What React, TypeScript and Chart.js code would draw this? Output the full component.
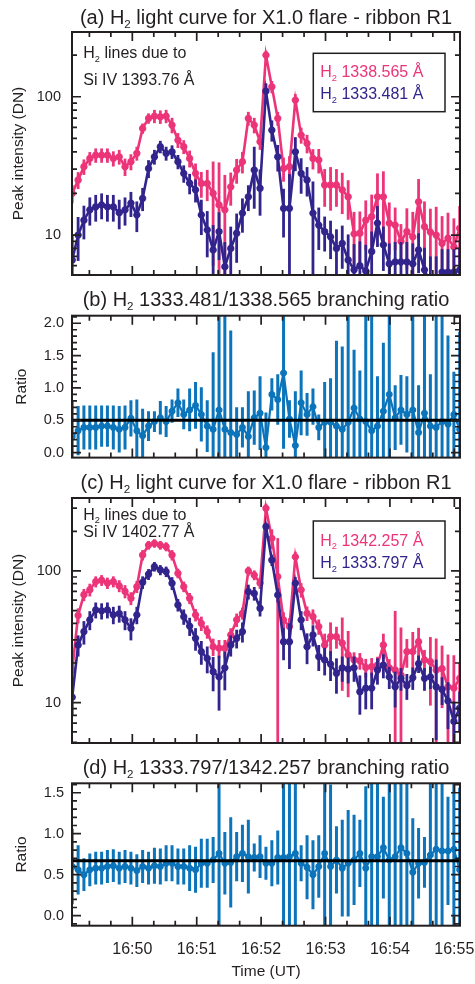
import React, { useEffect, useRef } from 'react';
import { Chart, registerables } from 'chart.js';

Chart.register(...registerables);

const FONT = '"Liberation Sans", Arial, Helvetica, sans-serif';
const INK = '#231f20';
const PINK = '#ec3479';
const NAVY = '#31248c';
const CYAN = '#0b74ba';

// Observation times, seconds after 16:49:00 UT
const TIME_S = [4.0, 9.5, 14.9, 20.4, 25.9, 31.4, 36.8, 42.3, 47.8, 53.2, 58.7, 64.2, 69.6, 75.1, 80.6, 86.1, 91.5, 97.0, 102.5, 107.9, 113.4, 118.9, 124.3, 129.8, 135.3, 140.8, 146.2, 151.7, 157.2, 162.6, 168.1, 173.6, 179.0, 184.5, 190.0, 195.5, 200.9, 206.4, 211.9, 217.3, 222.8, 228.3, 233.7, 239.2, 244.7, 250.2, 255.6, 261.1, 266.6, 272.0, 277.5, 283.0, 288.4, 293.9, 299.4, 304.9, 310.3, 315.8, 321.3, 326.7, 332.2, 337.7, 343.1, 348.6, 354.1, 359.6, 365.0];
const X_MIN = 3.8;
const X_MAX = 365.3;
const X_TICKS = [60, 120, 180, 240, 300, 360];
const X_TICK_LABELS = ['16:50', '16:51', '16:52', '16:53', '16:54', '16:55'];

// (a) Si IV 1393.76 pumped lines
const A_1338 = [20, 25, 31.2, 35.8, 37.8, 37.8, 37.8, 35.8, 36.8, 31.2, 33.9, 39, 59, 69.8, 72.4, 71.6, 72.4, 62.4, 48.6, 43.5, 35.8, 27.9, 23.6, 23.6, 20, 16.5, 15.2, 22.3, 29.5, 33.9, 69.8, 62.4, 47.3, 200, 118, 69.8, 30.3, 31.2, 94.6, 52.8, 46, 35.8, 34.9, 23, 23, 23, 21.2, 18.9, 10.2, 10.3, 12.8, 13.6, 18.9, 18.9, 12.2, 11.8, 9.0, 10.6, 9.7, 17.4, 11.5, 10.5, 10, 8.7, 9.5, 8.2, 11.2];
const A_1338_ERR = [3, 3.5, 4, 4, 4.5, 4.5, 4.5, 4.5, 4.5, 4.5, 4.5, 4.5, 5, 6, 8, 8, 8, 8, 6, 5, 5, 5, 5, 6, 14, 17, 12, 6, 6, 6, 8, 8, 6, 15, 12, 8, 6, 6, 10, 7, 7, 6, 7, 7, 8, 7, 7, 6, 4.5, 4.5, 5, 6, 9, 10, 5, 4, 3, 5, 5, 8, 6, 5, 6, 5, 5, 5, 5];
const A_1333 = [6.6, 10, 12.8, 15.2, 16, 16.5, 16, 16, 14.5, 15.2, 17, 14, 18.4, 30.3, 36.8, 43.5, 39, 40, 33.9, 27.9, 23.7, 21.2, 14, 10.9, 7.8, 10.6, 5.9, 8.0, 10.3, 14.4, 18.9, 29.5, 21.8, 110, 57.4, 36.8, 15.6, 15.6, 40, 27.9, 25, 14.4, 11.8, 10.6, 9.7, 8.0, 8.7, 6.6, 5.6, 6.0, 5.5, 7.6, 12.2, 8.5, 6.2, 6.4, 6.4, 6.4, 6.2, 7.8, 5.6, 4.5, 4.5, 5.4, 5.4, 5.4, 5.6];
const A_1333_ERR = [3.5, 3.5, 3.5, 3.5, 3.5, 3.5, 3.5, 3.5, 3.5, 3.5, 3.5, 3.5, 3.5, 4.5, 4.5, 4.5, 4.5, 4.5, 4, 4, 4, 4, 4, 4, 4, 4, 3, 3.5, 4, 4, 4, 14, 8, 15, 10, 8, 6, 12, 11, 8, 6, 10, 4, 3, 3, 3, 3, 3.5, 3, 3, 3, 3, 4, 3, 2.5, 2.5, 2.5, 2.5, 2.5, 2.5, 2.5, 2.5, 2.5, 2.5, 2.5, 2.5, 2.5];

// (b) branching ratio 1333.481/1338.565
const B_RATIO = [0.25, 0.34, 0.39, 0.39, 0.39, 0.41, 0.41, 0.39, 0.36, 0.39, 0.53, 0.34, 0.26, 0.41, 0.48, 0.54, 0.48, 0.64, 0.77, 0.59, 0.66, 0.73, 0.59, 0.41, 0.36, 0.66, 0.36, 0.31, 0.28, 0.39, 0.25, 0.54, 0.61, 0.08, 0.90, 0.82, 1.23, 0.52, 0.11, 0.77, 0.59, 0.71, 0.39, 0.47, 0.47, 0.41, 0.36, 0.47, 0.69, 0.52, 0.48, 0.34, 0.41, 0.64, 0.90, 0.54, 0.66, 0.59, 0.66, 0.31, 0.61, 0.41, 0.39, 0.48, 0.44, 0.59, 0.36];
const B_RATIO_ERR = [0.55, 0.38, 0.34, 0.34, 0.34, 0.32, 0.32, 0.34, 0.36, 0.34, 0.28, 0.48, 0.42, 0.23, 0.16, 0.26, 0.24, 0.18, 0.22, 0.23, 0.33, 0.36, 0.42, 0.40, 1.19, 1.6, 1.8, 1.58, 0.42, 0.31, 0.70, 0.42, 0.57, 0.54, 0.25, 0.39, 1.17, 0.29, 0.84, 0.5, 0.33, 0.28, 0.2, 0.62, 0.68, 1.32, 1.28, 2.0, 0.9, 0.75, 2.0, 2.0, 0.77, 1.06, 1.3, 0.5, 0.54, 0.59, 2.0, 0.73, 2.0, 0.8, 2.0, 2.0, 1.37, 0.66, 1.51];
const B_REF = 0.5;

// (c) Si IV 1402.77 pumped lines
const C_1342 = [17.7, 46, 66, 72, 83, 85, 81, 83, 77, 70, 62, 76, 132, 157, 162, 157, 153, 132, 96, 76, 62, 46.4, 40, 34.6, 26.6, 25.9, 25.9, 32.7, 42.5, 47.7, 100, 93, 81, 299, 177, 90.6, 42.5, 37.8, 128, 71.8, 47.7, 45, 37.8, 27.4, 31.7, 31.7, 28.3, 23, 21.1, 20.8, 18.5, 18.8, 19.3, 27.4, 18.4, 17.7, 16.2, 24.4, 24.4, 29, 21.1, 20.5, 17.7, 18.1, 13.2, 12.9, 15.3];
const C_1342_ERR = [4, 6, 7, 8, 8, 8, 8, 8, 8, 8, 7, 8, 12, 12, 12, 12, 12, 12, 8, 7, 6, 5, 5, 4, 4, 4, 4, 4, 5, 5, 8, 8, 8, 25, 30, 87, 6, 6, 12, 9, 6, 6, 5, 6, 9, 6, 16, 12, 3, 3, 3, 3, 3, 6, 3, 32, 21, 6, 10, 8, 4, 11, 13, 9, 10, 10, 5];
const C_1333 = [11, 27.4, 34.6, 42.5, 50.6, 49.8, 50.6, 46.4, 47.5, 42.5, 36.7, 46.4, 82, 94.4, 107.9, 101.8, 98.9, 80.7, 55.2, 45, 38.1, 30.8, 24.4, 21.7, 17.2, 15.7, 18.4, 27.4, 30.8, 34.6, 69.7, 67.5, 52.1, 217, 121, 65.7, 29, 29, 80.7, 42.5, 26.6, 32.7, 22.4, 21.1, 19.6, 16.7, 18.4, 18, 18.4, 12.1, 12.9, 12.9, 17.7, 19.3, 15.7, 13.2, 15.3, 13.5, 15.5, 19.8, 15.3, 15.7, 13.2, 12.6, 10.3, 7.2, 9.1];
const C_1333_ERR = [3, 5, 7, 7, 7, 7, 7, 7, 7, 7, 7, 7, 9, 9, 9, 9, 9, 9, 6, 6, 6, 6, 5, 5, 5, 7, 6, 5, 5, 6, 9, 8, 7, 15, 12, 8, 8, 11, 9, 7, 7, 6, 5, 5, 5, 5, 4, 4, 4, 4, 4, 4, 4, 4, 3, 4, 3, 3, 3, 3, 3, 3, 8, 3, 4, 3, 3];

// (d) branching ratio 1333.797/1342.257
const D_RATIO = [0.60, 0.56, 0.50, 0.56, 0.58, 0.58, 0.60, 0.61, 0.58, 0.60, 0.58, 0.55, 0.60, 0.58, 0.61, 0.60, 0.64, 0.64, 0.60, 0.60, 0.58, 0.56, 0.64, 0.64, 0.68, 0.76, 0.64, 0.65, 0.72, 0.76, 0.72, 0.71, 0.72, 0.64, 0.64, 0.71, 0.71, 0.72, 0.76, 0.64, 0.59, 0.50, 0.60, 0.76, 0.60, 0.68, 0.58, 0.64, 0.68, 0.76, 0.58, 0.72, 0.72, 0.83, 0.68, 0.72, 0.83, 0.76, 0.53, 0.64, 0.65, 0.74, 0.81, 0.79, 0.79, 0.81, 0.56];
const D_RATIO_ERR = [0.46, 0.30, 0.20, 0.20, 0.20, 0.20, 0.20, 0.20, 0.20, 0.20, 0.20, 0.20, 0.20, 0.20, 0.22, 0.22, 0.22, 0.22, 0.22, 0.22, 0.28, 0.28, 0.30, 0.30, 0.28, 1.0, 0.38, 0.55, 0.30, 0.35, 0.45, 0.17, 0.26, 0.20, 0.28, 0.33, 1.0, 1.0, 1.0, 0.22, 0.39, 0.42, 0.38, 1.0, 1.0, 0.41, 0.59, 0.65, 0.55, 0.41, 1.0, 1.0, 1.0, 0.62, 1.0, 1.0, 1.0, 1.0, 0.66, 0.43, 0.31, 1.0, 1.0, 1.0, 0.66, 1.0, 1.0];
const D_REF = 0.67;

const LOG_TICKS = [10, 100];
const B_TICKS = [0, 0.5, 1.0, 1.5, 2.0];
const D_TICKS = [0, 0.5, 1.0, 1.5];

type Seg = { t: string; sub?: boolean };
const H2: Seg[] = [{ t: 'H' }, { t: '2', sub: true }];
const rich = (...parts: (string | Seg[])[]): Seg[] =>
  parts.flatMap((p) => (typeof p === 'string' ? [{ t: p }] : p));

interface Series {
  label: string;
  values: number[];
  errors: number[];
  color: string;
  lineWidth: number;
  errWidth: number;
  radius: number;
}

interface PanelSpec {
  key: string;
  top: number;
  height: number;
  areaTop: number;
  areaBottom: number;
  title: Seg[];
  titleY: number;
  log: boolean;
  yMin: number;
  yMax: number;
  yTicks: number[];
  yDigits: number;
  yPad: number;
  yTitle: string;
  yTitlePad: number;
  series: Series[];
  ref?: number;
  showX: boolean;
  notes?: { segs: Seg[]; y: number }[];
  legend?: { box: [number, number, number, number]; items: { segs: Seg[]; color: string; y: number }[] };
}

const X_AXIS_H = 58.3;

function drawRich(ctx: CanvasRenderingContext2D, segs: Seg[], x: number, y: number, size: number, align: 'left' | 'center', color: string) {
  const parts = segs.map((s) => {
    const fs = s.sub ? size * 0.58 : size;
    ctx.font = `${fs}px ${FONT}`;
    return { s, fs, w: ctx.measureText(s.t).width };
  });
  const total = parts.reduce((a, p) => a + p.w, 0);
  let cx = align === 'center' ? x - total / 2 : x;
  ctx.fillStyle = color;
  ctx.textBaseline = 'alphabetic';
  ctx.textAlign = 'left';
  for (const p of parts) {
    ctx.font = `${p.fs}px ${FONT}`;
    ctx.fillText(p.s.t, cx, y + (p.s.sub ? size * 0.2 : 0));
    cx += p.w;
  }
}

function yTickMarks(spec: PanelSpec): [number, boolean][] {
  const out: [number, boolean][] = [];
  if (spec.log) {
    for (let d = 1; d <= 1000; d *= 10) {
      for (let m = 1; m <= 9; m++) {
        const v = m * d;
        if (v > spec.yMin && v < spec.yMax) out.push([v, m === 1]);
      }
    }
  } else {
    for (let k = Math.ceil(spec.yMin * 10); k <= Math.floor(spec.yMax * 10); k++) {
      out.push([k / 10, k % 5 === 0]);
    }
  }
  return out;
}

function decorPlugin(spec: PanelSpec) {
  return {
    id: 'decor_' + spec.key,
    afterDatasetDraw(chart: any, args: any) {
      const ds: any = chart.data.datasets[args.index];
      if (!ds.errors) return;
      const xs = chart.scales.x;
      const ys = chart.scales.y;
      const a = chart.chartArea;
      const ctx: CanvasRenderingContext2D = chart.ctx;
      ctx.save();
      ctx.beginPath();
      ctx.rect(a.left, a.top, a.right - a.left, a.bottom - a.top);
      ctx.clip();
      ctx.strokeStyle = ds.borderColor;
      ctx.lineWidth = ds.errWidth;
      ctx.lineCap = 'butt';
      ds.data.forEach((p: { x: number; y: number }, i: number) => {
        const e = ds.errors[i];
        const lo = p.y - e;
        const hi = p.y + e;
        const px = xs.getPixelForValue(p.x);
        const pyHi = ys.getPixelForValue(hi);
        const pyLo = spec.log && lo <= 0 ? a.bottom + 20 : ys.getPixelForValue(lo);
        ctx.beginPath();
        ctx.moveTo(px, pyLo);
        ctx.lineTo(px, pyHi);
        ctx.stroke();
      });
      ctx.restore();
    },
    afterDraw(chart: any) {
      const ctx: CanvasRenderingContext2D = chart.ctx;
      const a = chart.chartArea;
      const xs = chart.scales.x;
      const ys = chart.scales.y;
      ctx.save();
      ctx.strokeStyle = INK;
      ctx.lineWidth = 2;
      ctx.strokeRect(a.left, a.top, a.right - a.left, a.bottom - a.top);
      ctx.lineWidth = 1.7;
      ctx.beginPath();
      for (let s = 20; s < X_MAX; s += 20) {
        if (s <= X_MIN) continue;
        const px = xs.getPixelForValue(s);
        const len = s % 60 === 0 ? 9 : 5;
        ctx.moveTo(px, a.bottom);
        ctx.lineTo(px, a.bottom - len);
        ctx.moveTo(px, a.top);
        ctx.lineTo(px, a.top + len);
      }
      yTickMarks(spec).forEach(([v, major]) => {
        const py = ys.getPixelForValue(v);
        const len = major ? 9 : 5;
        ctx.moveTo(a.left, py);
        ctx.lineTo(a.left + len, py);
        ctx.moveTo(a.right, py);
        ctx.lineTo(a.right - len, py);
      });
      ctx.stroke();

      drawRich(ctx, spec.title, (a.left + a.right) / 2, spec.titleY, 20, 'center', INK);
      if (spec.notes) {
        spec.notes.forEach((n) => drawRich(ctx, n.segs, 83.3, n.y, 16, 'left', INK));
      }
      if (spec.legend) {
        const [bx, by, bw, bh] = spec.legend.box;
        ctx.lineWidth = 1.5;
        ctx.strokeStyle = INK;
        ctx.fillStyle = '#ffffff';
        ctx.fillRect(bx, by, bw, bh);
        ctx.strokeRect(bx, by, bw, bh);
        spec.legend.items.forEach((it) => drawRich(ctx, it.segs, bx + 7, it.y, 16, 'left', it.color));
      }
      ctx.restore();
    },
  };
}

function buildConfig(spec: PanelSpec): any {
  const datasets: any[] = spec.series.map((s, k) => ({
    label: s.label,
    data: TIME_S.map((t, i) => ({ x: t, y: s.values[i] })),
    errors: s.errors,
    errWidth: s.errWidth,
    borderColor: s.color,
    backgroundColor: s.color,
    borderWidth: s.lineWidth,
    pointStyle: 'star',
    pointRadius: s.radius,
    pointBorderWidth: 2.4,
    pointBorderColor: s.color,
    pointBackgroundColor: s.color,
    tension: 0,
    order: spec.series.length - k,
  }));
  if (spec.ref !== undefined) {
    datasets.push({
      label: 'reference',
      data: [
        { x: X_MIN, y: spec.ref },
        { x: X_MAX, y: spec.ref },
      ],
      borderColor: '#000000',
      borderWidth: 3,
      pointRadius: 0,
      order: 0,
    });
  }
  return {
    type: 'line',
    data: { datasets },
    options: {
      animation: false,
      responsive: false,
      events: [],
      layout: {
        padding: {
          left: 0,
          right: 15,
          top: spec.areaTop,
          bottom: spec.height - spec.areaBottom - (spec.showX ? X_AXIS_H : 0),
        },
      },
      plugins: { legend: { display: false }, tooltip: { enabled: false }, title: { display: false } },
      scales: {
        x: {
          type: 'linear',
          min: X_MIN,
          max: X_MAX,
          display: spec.showX,
          grid: { display: false, drawTicks: false },
          border: { display: false },
          afterBuildTicks: (s: any) => {
            s.ticks = X_TICKS.map((v) => ({ value: v }));
          },
          afterFit: (s: any) => {
            s.height = spec.showX ? X_AXIS_H : 0;
            s.paddingLeft = 0;
            s.paddingRight = 0;
          },
          ticks: {
            color: INK,
            font: { family: FONT, size: 16 },
            padding: 14,
            maxRotation: 0,
            autoSkip: false,
            callback: (v: any) => {
              const k = X_TICKS.indexOf(Number(v));
              return k >= 0 ? X_TICK_LABELS[k] : '';
            },
          },
          title: {
            display: true,
            text: 'Time (UT)',
            color: INK,
            font: { family: FONT, size: 15.5 },
            padding: { top: 0, bottom: 3 },
          },
        },
        y: {
          type: spec.log ? 'logarithmic' : 'linear',
          min: spec.yMin,
          max: spec.yMax,
          grid: { display: false, drawTicks: false },
          border: { display: false },
          afterBuildTicks: (s: any) => {
            s.ticks = spec.yTicks.map((v) => ({ value: v }));
          },
          afterFit: (s: any) => {
            s.width = 72;
            s.paddingTop = 0;
            s.paddingBottom = 0;
          },
          ticks: {
            color: INK,
            font: { family: FONT, size: 14.5 },
            padding: spec.yPad,
            autoSkip: false,
            callback: (v: any) => Number(v).toFixed(spec.yDigits),
          },
          title: {
            display: true,
            text: spec.yTitle,
            color: INK,
            font: { family: FONT, size: 15.5 },
            padding: { top: spec.yTitlePad, bottom: 0 },
          },
        },
      },
    },
    plugins: [decorPlugin(spec)],
  };
}

const lc = (label: string, values: number[], errors: number[], color: string): Series => ({
  label, values, errors, color, lineWidth: 2.6, errWidth: 2.8, radius: 3.6,
});
const rs = (label: string, values: number[], errors: number[]): Series => ({
  label, values, errors, color: CYAN, lineWidth: 2.2, errWidth: 3, radius: 3.4,
});

const PANELS: PanelSpec[] = [
  {
    key: 'a', top: 0, height: 283, areaTop: 32, areaBottom: 275,
    title: rich('(a) ', H2, ' light curve for X1.0 flare - ribbon R1'), titleY: 24,
    log: true, yMin: 5.14, yMax: 294, yTicks: LOG_TICKS, yDigits: 0, yPad: 11,
    yTitle: 'Peak intensity (DN)', yTitlePad: 9,
    series: [lc('H2 1338.565', A_1338, A_1338_ERR, PINK), lc('H2 1333.481', A_1333, A_1333_ERR, NAVY)],
    showX: false,
    notes: [
      { segs: rich(H2, ' lines due to'), y: 58.3 },
      { segs: rich('Si IV 1393.76 Å'), y: 84.5 },
    ],
    legend: {
      box: [313.3, 53.3, 131.7, 58.4],
      items: [
        { segs: rich(H2, ' 1338.565 Å'), color: PINK, y: 77.3 },
        { segs: rich(H2, ' 1333.481 Å'), color: NAVY, y: 99.3 },
      ],
    },
  },
  {
    key: 'b', top: 283, height: 181, areaTop: 32.7, areaBottom: 176,
    title: rich('(b) ', H2, ' 1333.481/1338.565 branching ratio'), titleY: 23,
    log: false, yMin: -0.077, yMax: 2.117, yTicks: B_TICKS, yDigits: 1, yPad: 8,
    yTitle: 'Ratio', yTitlePad: 12,
    series: [rs('ratio', B_RATIO, B_RATIO_ERR)], ref: B_REF,
    showX: false,
  },
  {
    key: 'c', top: 464, height: 286, areaTop: 34, areaBottom: 279,
    title: rich('(c) ', H2, ' light curve for X1.0 flare - ribbon R1'), titleY: 25.3,
    log: true, yMin: 4.94, yMax: 358, yTicks: LOG_TICKS, yDigits: 0, yPad: 11,
    yTitle: 'Peak intensity (DN)', yTitlePad: 9,
    series: [lc('H2 1342.257', C_1342, C_1342_ERR, PINK), lc('H2 1333.797', C_1333, C_1333_ERR, NAVY)],
    showX: false,
    notes: [
      { segs: rich(H2, ' lines due to'), y: 56 },
      { segs: rich('Si IV 1402.77 Å'), y: 72.7 },
    ],
    legend: {
      box: [313.3, 57, 131.7, 57.3],
      items: [
        { segs: rich(H2, ' 1342.257 Å'), color: PINK, y: 82 },
        { segs: rich(H2, ' 1333.797 Å'), color: NAVY, y: 104.3 },
      ],
    },
  },
  {
    key: 'd', top: 750, height: 234, areaTop: 33.3, areaBottom: 175.7,
    title: rich('(d) ', H2, ' 1333.797/1342.257 branching ratio'), titleY: 24,
    log: false, yMin: -0.122, yMax: 1.615, yTicks: D_TICKS, yDigits: 1, yPad: 8,
    yTitle: 'Ratio', yTitlePad: 12,
    series: [rs('ratio', D_RATIO, D_RATIO_ERR)], ref: D_REF,
    showX: true,
  },
];

function Panel({ spec }: { spec: PanelSpec }) {
  const ref = useRef<HTMLCanvasElement>(null);
  useEffect(() => {
    const canvas = ref.current;
    if (!canvas) return;
    const chart = new Chart(canvas, buildConfig(spec));
    return () => chart.destroy();
  }, [spec]);
  return (
    <canvas
      ref={ref}
      width={475}
      height={spec.height}
      style={{ position: 'absolute', left: 0, top: spec.top, width: 475, height: spec.height }}
    />
  );
}

export default function App() {
  return (
    <div style={{ position: 'absolute', left: 0, top: 0, width: 475, height: 984, background: '#ffffff', overflow: 'hidden' }}>
      {PANELS.map((p) => (
        <Panel key={p.key} spec={p} />
      ))}
    </div>
  );
}
